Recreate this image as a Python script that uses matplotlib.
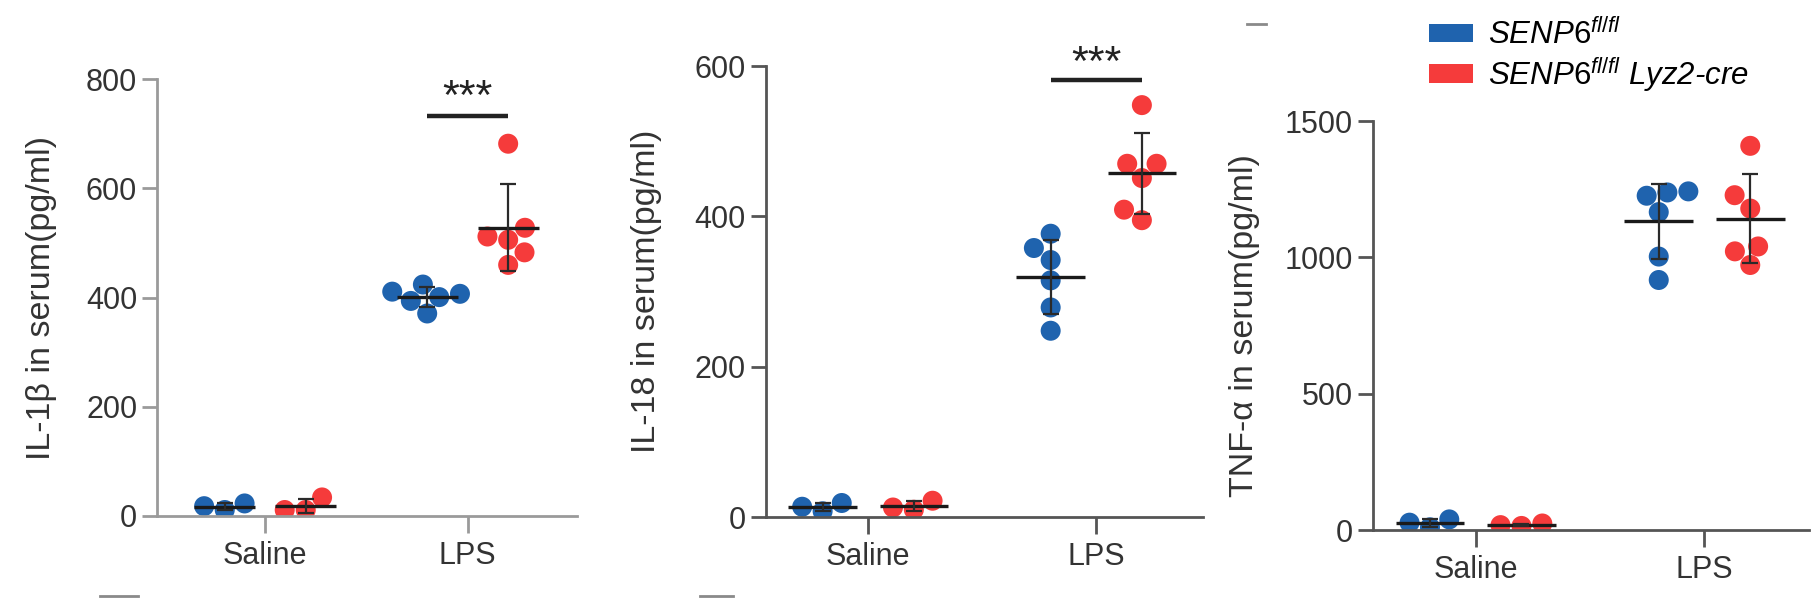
"""
Serum cytokines in SENP6 fl/fl vs SENP6 fl/fl Lyz2-cre mice (Saline / LPS)
"""
import matplotlib
matplotlib.use('Agg')
import matplotlib.pyplot as plt
from matplotlib.patches import Patch
from matplotlib.lines import Line2D
import numpy as np
import pandas as pd
import seaborn as sns

plt.rcParams['font.family'] = ['Liberation Sans', 'DejaVu Sans']
plt.rcParams['mathtext.fontset'] = 'custom'
plt.rcParams['mathtext.it'] = 'Liberation Sans:italic'
plt.rcParams['mathtext.rm'] = 'Liberation Sans'

conditions = ['Saline', 'LPS']
genotypes = ['wt', 'ko']
legend_labels = [r'$\mathit{SENP6}^{\mathit{fl/fl}}$',
                 r'$\mathit{SENP6}^{\mathit{fl/fl}}$ Lyz2-cre']

# IL-1b in serum (pg/ml)
il1b_saline_wt = [11, 23, 18]
il1b_saline_ko = [11, 34, 11]
il1b_lps_wt = [394, 411, 401, 407, 424, 371]
il1b_lps_ko = [682, 506, 528, 512, 483, 460]

# IL-18 in serum (pg/ml)
il18_saline_wt = [8, 19, 14]
il18_saline_ko = [10, 22, 13]
il18_lps_wt = [358, 377, 342, 315, 279, 248]
il18_lps_ko = [548, 470, 470, 451, 395, 409]

# TNF-a in serum (pg/ml)
tnf_saline_wt = [10, 39, 27]
tnf_saline_ko = [15, 24, 18]
tnf_lps_wt = [1226, 1238, 1242, 1166, 1003, 917]
tnf_lps_ko = [1409, 1228, 1179, 1040, 1022, 972]

BLUE = '#1f63ae'
RED = '#f53b3b'
TEXT = '#333333'


def make_df(saline_wt, saline_ko, lps_wt, lps_ko):
    rows = []
    groups = [('Saline', 'wt', saline_wt), ('Saline', 'ko', saline_ko),
              ('LPS', 'wt', lps_wt), ('LPS', 'ko', lps_ko)]
    for cond, geno, vals in groups:
        for v in vals:
            rows.append((cond, geno, v))
    return pd.DataFrame(rows, columns=['condition', 'genotype', 'value'])


panels = [
    dict(df=make_df(il1b_saline_wt, il1b_saline_ko, il1b_lps_wt, il1b_lps_ko),
         rect=[0.0865, 0.1541, 0.2307, 0.7159], ylim=800, yticks=[0, 200, 400, 600, 800],
         xlim=(-0.533, 1.54), ylabel='IL-1β in serum(pg/ml)', labelx=-0.239,
         spine='#9a9a9a', sig=(732, 765)),
    dict(df=make_df(il18_saline_wt, il18_saline_ko, il18_lps_wt, il18_lps_ko),
         rect=[0.4209, 0.1520, 0.2407, 0.7398], ylim=600, yticks=[0, 200, 400, 600],
         xlim=(-0.45, 1.47), ylabel='IL-18 in serum(pg/ml)', labelx=-0.237,
         spine='#555555', sig=(581, 603)),
    dict(df=make_df(tnf_saline_wt, tnf_saline_ko, tnf_lps_wt, tnf_lps_ko),
         rect=[0.7547, 0.1311, 0.2397, 0.6705], ylim=1500, yticks=[0, 500, 1000, 1500],
         xlim=(-0.45, 1.456), ylabel='TNF-α in serum(pg/ml)', labelx=-0.258,
         spine='#555555', sig=None),
]

fig = plt.figure(figsize=(18.19, 6.10), dpi=100)

for p in panels:
    ax = fig.add_axes(p['rect'])
    df = p['df']
    sns.swarmplot(data=df, x='condition', y='value', hue='genotype',
                  order=conditions, hue_order=genotypes, palette=[BLUE, RED],
                  dodge=True, size=14.4, linewidth=0, legend=False, ax=ax, zorder=2)

    # mean +/- SD
    for i, cond in enumerate(conditions):
        for j, geno in enumerate(genotypes):
            vals = df[(df.condition == cond) & (df.genotype == geno)]['value'].values
            xc = i + (j - 0.5) * 0.4
            m = np.mean(vals)
            sd = np.std(vals, ddof=1)
            ax.hlines(m, xc - 0.15, xc + 0.15, color='#1a1a1a', lw=2.4, zorder=4)
            ax.errorbar(xc, m, yerr=sd, fmt='none', ecolor='#2a2a2a', elinewidth=1.6,
                        capsize=6, capthick=1.6, zorder=4)

    if p['sig'] is not None:
        ybar, ystar = p['sig']
        ax.plot([0.8, 1.2], [ybar, ybar], color='#222222', lw=3.2,
                solid_capstyle='butt', clip_on=False)
        ax.text(1.0, ystar, '***', ha='center', va='center', fontsize=31,
                color='#222222')

    ax.set_xlim(*p['xlim'])
    ax.set_ylim(0, p['ylim'])
    ax.set_yticks(p['yticks'])
    ax.set_xticks([0, 1])
    ax.set_xticklabels(conditions)
    ax.set_xlabel('')
    ax.set_ylabel(p['ylabel'], fontsize=24.5, color=TEXT)
    ax.yaxis.set_label_coords(p['labelx'], 0.5)

    for side in ['top', 'right']:
        ax.spines[side].set_visible(False)
    for side in ['left', 'bottom']:
        ax.spines[side].set_color(p['spine'])
        ax.spines[side].set_linewidth(2.0)
    ax.tick_params(axis='y', length=11, width=2, color=p['spine'],
                   labelsize=22, labelcolor=TEXT)
    ax.tick_params(axis='x', length=12, width=2, color=p['spine'],
                   labelsize=22, labelcolor=TEXT, pad=6)
    ax.patch.set_alpha(0)

# legend (top right)
handles = [Patch(facecolor=BLUE, edgecolor='none'), Patch(facecolor=RED, edgecolor='none')]
fig.legend(handles, legend_labels, loc='upper left', bbox_to_anchor=(1429 / 1819, 1 - 19 / 610),
           frameon=False, prop={'style': 'italic', 'size': 22.5},
           handlelength=1.42, handleheight=0.55, handletextpad=0.48,
           labelspacing=0.12, borderpad=0, borderaxespad=0)

# small cropping marks left over at the figure edges
for x0, x1, yy in [(100, 138, 596), (700, 733, 596), (1247, 1266, 24)]:
    fig.add_artist(Line2D([x0 / 1819, x1 / 1819], [1 - yy / 610] * 2,
                          color='#8a8a8a', lw=2))

plt.savefig('out.png', dpi=100)
plt.close()
